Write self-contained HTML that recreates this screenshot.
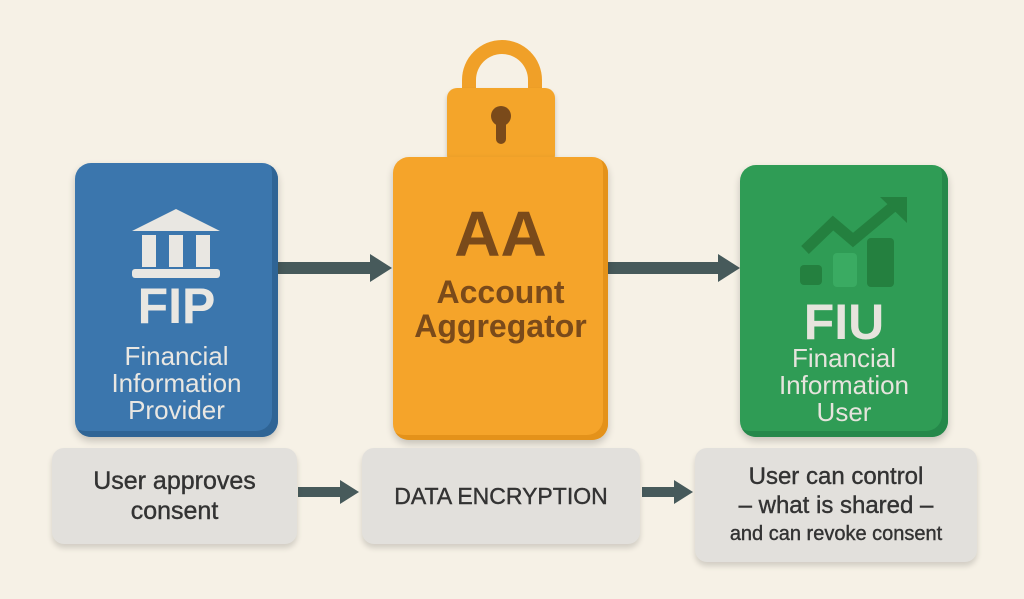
<!DOCTYPE html>
<html><head><style>
body{margin:0;width:1024px;height:599px;background:#f6f1e6;position:relative;overflow:hidden;font-family:"Liberation Sans",sans-serif}
.a{position:absolute}
.box{position:absolute;border-radius:16px;text-align:center;font-weight:bold}
.gray{position:absolute;background:#e2e0dc;border-radius:12px;box-shadow:0 4px 6px rgba(0,0,0,.15);color:#333;text-align:center;display:flex;align-items:center;justify-content:center;-webkit-text-stroke:0.4px #333}
.ln{position:absolute;background:#475a5b}
.hd{position:absolute;width:0;height:0;border-top:14px solid transparent;border-bottom:14px solid transparent;border-left:22px solid #475a5b}
</style></head><body>
<div class="ln" style="left:276px;top:262px;width:96px;height:12px"></div>
<div class="hd" style="left:370px;top:254px"></div>
<div class="ln" style="left:606px;top:262px;width:114px;height:12px"></div>
<div class="hd" style="left:718px;top:254px"></div>
<div class="box" style="left:75px;top:163px;width:203px;height:274px;background:#3b76ad;box-shadow:inset -6px -6px 0 #2f6495,0 4px 8px rgba(0,0,0,.2);color:#e9e7e2">
<svg class="a" style="left:55px;top:44px" width="92" height="72" viewBox="0 0 92 72"><polygon points="46,2 90,24 2,24" fill="#e9e7e2"/><rect x="12" y="28" width="14" height="32" fill="#e9e7e2"/><rect x="39" y="28" width="14" height="32" fill="#e9e7e2"/><rect x="66" y="28" width="14" height="32" fill="#e9e7e2"/><rect x="2" y="62" width="88" height="9" rx="3" fill="#e9e7e2"/></svg>
<div class="a" style="left:0;width:203px;top:114px;font-size:50px">FIP</div>
<div class="a" style="left:0;width:203px;top:180px;font-size:26px;line-height:27px;font-weight:normal">Financial<br>Information<br>Provider</div>
</div>
<div class="a" style="left:462px;top:40px;width:52px;height:60px;border:14px solid #f0a028;border-bottom:none;border-radius:40px 40px 0 0"></div>
<div class="a" style="left:447px;top:88px;width:108px;height:77px;background:#f4a52a;border-radius:10px;box-shadow:0 3px 5px rgba(0,0,0,.2)"></div>
<div class="a" style="left:491px;top:106px;width:20px;height:20px;border-radius:50%;background:#7a4a1a"></div>
<div class="a" style="left:496px;top:118px;width:10px;height:26px;border-radius:5px;background:#7a4a1a"></div>
<div class="box" style="left:393px;top:157px;width:215px;height:283px;background:#f5a42a;box-shadow:inset -5px -5px 0 #e4921a,0 4px 8px rgba(0,0,0,.2);color:#7a4a1a">
<div class="a" style="left:0;width:215px;top:40px;font-size:64px">AA</div>
<div class="a" style="left:0;width:215px;top:118px;font-size:32px;line-height:34px">Account<br>Aggregator</div>
</div>
<div class="box" style="left:740px;top:165px;width:208px;height:272px;background:#2f9c55;box-shadow:inset -6px -6px 0 #25884a,0 4px 8px rgba(0,0,0,.2);color:#e6e4dd">
<svg class="a" style="left:55px;top:30px" width="115" height="95" viewBox="0 0 115 95"><polyline points="10,55 38,28 58,45 100,10" fill="none" stroke="#24803f" stroke-width="11"/><polygon points="85,2 112,2 112,28" fill="#24803f"/><rect x="5" y="70" width="22" height="20" rx="4" fill="#24803f"/><rect x="38" y="58" width="24" height="34" rx="4" fill="#3aab62"/><rect x="72" y="43" width="27" height="49" rx="4" fill="#24803f"/></svg>
<div class="a" style="left:0;width:208px;top:128px;font-size:50px">FIU</div>
<div class="a" style="left:0;width:208px;top:180px;font-size:26px;line-height:27px;font-weight:normal">Financial<br>Information<br>User</div>
</div>
<div class="ln" style="left:298px;top:487px;width:44px;height:10px"></div>
<div class="hd" style="left:340px;top:480px;border-top-width:12px;border-bottom-width:12px;border-left-width:19px"></div>
<div class="ln" style="left:642px;top:487px;width:34px;height:10px"></div>
<div class="hd" style="left:674px;top:480px;border-top-width:12px;border-bottom-width:12px;border-left-width:19px"></div>
<div class="gray" style="left:52px;top:448px;width:245px;height:96px;font-size:25px;line-height:30px">User approves<br>consent</div>
<div class="gray" style="left:362px;top:448px;width:278px;height:96px;font-size:23px">DATA ENCRYPTION</div>
<div class="gray" style="left:695px;top:448px;width:282px;height:114px;font-size:24px;line-height:29px;flex-direction:column">User can control<br>– what is shared –<br><span style="font-size:20px">and can revoke consent</span></div>
</body></html>
